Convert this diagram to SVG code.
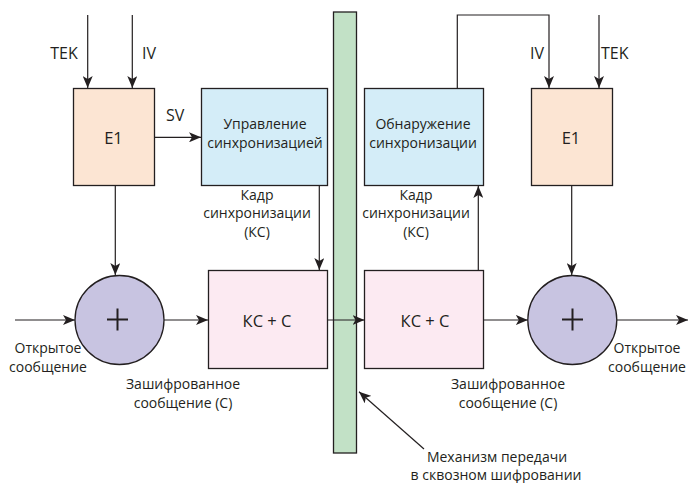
<svg xmlns="http://www.w3.org/2000/svg" width="688" height="483" viewBox="0 0 688 483">
<style>
text{font-family:"Open Sans","Noto Sans",sans-serif;font-size:14px;fill:#231f20}
.m{text-anchor:middle}
.b{font-size:16.5px}
.l{font-size:16px}
.box{stroke:#231f20;stroke-width:1.3}
.ln{stroke:#231f20;stroke-width:1.2;fill:none}
.e1{fill:#fce5d3}
.bl{fill:#d4edf8}
.pk{fill:#fceaf2}
.ci{fill:#c8c4e1}
.pl{stroke:#231f20;stroke-width:2}
</style>
<defs>
<marker id="a" viewBox="0 0 12 10" refX="12" refY="5" markerWidth="12" markerHeight="10" markerUnits="userSpaceOnUse" orient="auto">
<path d="M0,0 L12,5 L0,10 L3,5 z" fill="#231f20"/>
</marker>
</defs>
<g id="bar"><rect x="333.5" y="12" width="23" height="441" fill="#c2e1c6" class="box"/></g>
<g id="e1-left"><rect x="73.5" y="88.5" width="81" height="97" class="box e1"/><text x="113.5" y="144" class="m b">E1</text></g>
<g id="sync-ctrl"><rect x="201.5" y="88.5" width="126" height="97" class="box bl"/><text x="265" y="129" class="m">Управление</text><text x="265" y="148" class="m">синхронизацией</text></g>
<g id="sync-det"><rect x="364.5" y="88.5" width="119" height="97" class="box bl"/><text x="423" y="129" class="m">Обнаружение</text><text x="423" y="148" class="m">синхронизации</text></g>
<g id="e1-right"><rect x="531.5" y="88.5" width="81" height="97" class="box e1"/><text x="571" y="144" class="m b">E1</text></g>
<g id="kc-left"><rect x="208.5" y="270.5" width="119" height="98" class="box pk"/><text x="267" y="327" class="m b">КС + С</text></g>
<g id="kc-right"><rect x="364.5" y="270.5" width="119" height="98" class="box pk"/><text x="425" y="327" class="m b">КС + С</text></g>
<g id="xor-left"><circle cx="119.5" cy="320" r="44.5" class="box ci"/><path d="M107,319.5 H128 M117.5,308.5 V330.5" class="pl"/></g>
<g id="xor-right"><circle cx="572.3" cy="320" r="44.5" class="box ci"/><path d="M562,319.5 H583 M572.5,308.5 V330.5" class="pl"/></g>
<g id="connectors">
<path class="ln" d="M87.7,15 V88" marker-end="url(#a)"/>
<path class="ln" d="M132.3,15 V88" marker-end="url(#a)"/>
<path class="ln" d="M154.5,137.3 H201" marker-end="url(#a)"/>
<path class="ln" d="M319.3,186 V270" marker-end="url(#a)"/>
<path class="ln" d="M115.3,186 V275" marker-end="url(#a)"/>
<path class="ln" d="M15,320 H75" marker-end="url(#a)"/>
<path class="ln" d="M164,320 H208" marker-end="url(#a)"/>
<path class="ln" d="M327.7,320 H364.5" marker-end="url(#a)"/>
<path class="ln" d="M478.3,270.5 V186" marker-end="url(#a)"/>
<path class="ln" d="M457.3,88.5 V15 H549 V88" marker-end="url(#a)"/>
<path class="ln" d="M599,15 V88" marker-end="url(#a)"/>
<path class="ln" d="M571.7,186 V275" marker-end="url(#a)"/>
<path class="ln" d="M483.5,320 H527.8" marker-end="url(#a)"/>
<path class="ln" d="M616.8,320 H688" marker-end="url(#a)"/>
<path class="ln" d="M424,449 L359,391.7" marker-end="url(#a)"/>
</g>
<g id="labels">
<text x="64" y="59" class="m l">TEK</text>
<text x="142" y="59" class="l">IV</text>
<text x="166" y="121" class="l">SV</text>
<text x="257" y="200" class="m">Кадр</text>
<text x="257" y="218" class="m">синхронизации</text>
<text x="257" y="237" class="m">(КС)</text>
<text x="416" y="200" class="m">Кадр</text>
<text x="416" y="218" class="m">синхронизации</text>
<text x="416" y="237" class="m">(КС)</text>
<text x="544" y="59" text-anchor="end" class="l">IV</text>
<text x="601" y="59" class="l">TEK</text>
<text x="48" y="353" class="m">Открытое</text>
<text x="48" y="372" class="m">сообщение</text>
<text x="183" y="389" class="m">Зашифрованное</text>
<text x="183" y="408" class="m">сообщение (С)</text>
<text x="647" y="353" class="m">Открытое</text>
<text x="647" y="372" class="m">сообщение</text>
<text x="508" y="389" class="m">Зашифрованное</text>
<text x="508" y="408" class="m">сообщение (С)</text>
<text x="497" y="462" class="m">Механизм передачи</text>
<text x="496" y="480" class="m">в сквозном шифровании</text>
</g>
</svg>
